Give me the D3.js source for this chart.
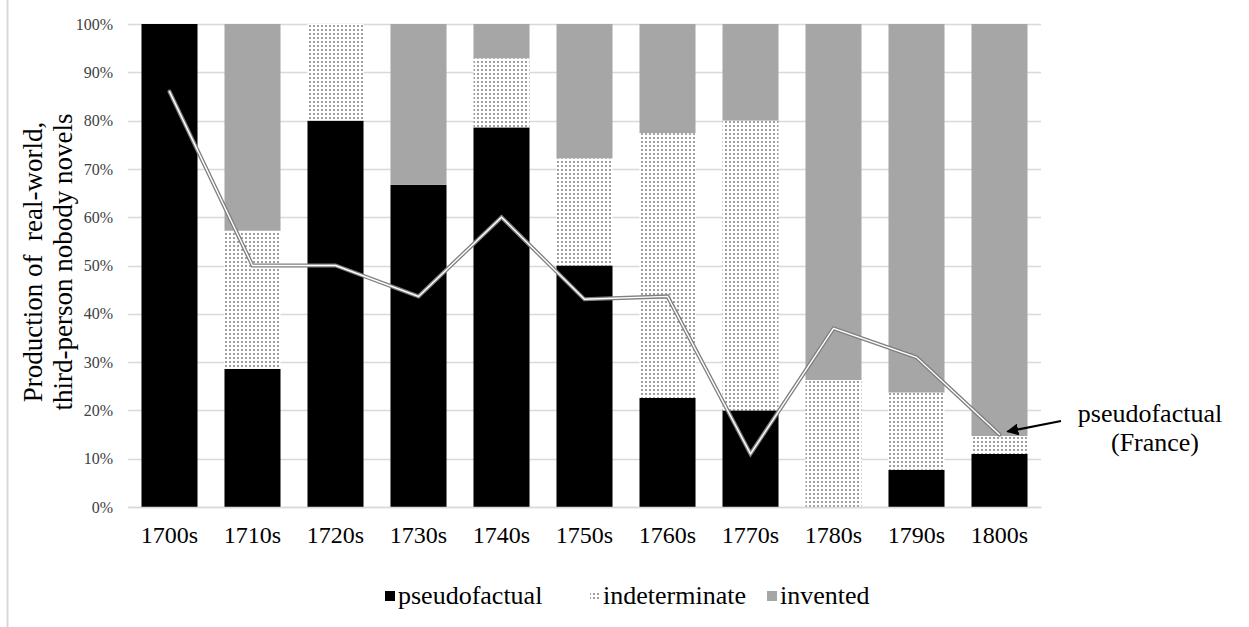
<!DOCTYPE html>
<html>
<head>
<meta charset="utf-8">
<script src="https://cdn.jsdelivr.net/npm/d3@7"></script>
<style>
  html, body { margin: 0; padding: 0; background: #fff; }
</style>
</head>
<body>
<svg id="chart" width="1249" height="627" font-family="Liberation Serif, serif"></svg>
<script>
// ---- data ----
const categories = ["1700s","1710s","1720s","1730s","1740s","1750s","1760s","1770s","1780s","1790s","1800s"];
const pseudofactual = [100, 28.6, 80, 66.7, 78.6, 50, 22.6, 20, 0, 7.7, 11];
const indeterminate = [0, 28.6, 20, 0, 14.3, 22.2, 54.8, 60, 26.3, 16.0, 3.7];
const invented = [0, 42.8, 0, 33.3, 7.1, 27.8, 22.6, 20, 73.7, 76.3, 85.3];
const franceLine = [86, 50, 50, 43.6, 60, 43, 43.6, 11, 37, 31, 15];
const yTicks = [0, 10, 20, 30, 40, 50, 60, 70, 80, 90, 100];
const seriesNames = ["pseudofactual", "indeterminate", "invented"];
const yTitleLines = ["Production of  real-world,", "third-person nobody novels"];
const annotationLines = ["pseudofactual", "(France)"];

const FONT = "Liberation Serif";

// ---- layout ----
const svg = d3.select("#chart");
const plot = { left: 128, right: 1041, top: 24, bottom: 507 };

const x = d3.scaleBand().domain(categories).range([plot.left, plot.right]).paddingInner(0.325).paddingOuter(0.1625);
const y = d3.scaleLinear().domain([0, 100]).range([plot.bottom, plot.top]);

// pattern
const defs = svg.append("defs");
const pat = defs.append("pattern").attr("id", "dots").attr("patternUnits", "userSpaceOnUse")
  .attr("width", 4).attr("height", 4);
pat.append("rect").attr("width", 4).attr("height", 4).attr("fill", "#fff");
pat.append("rect").attr("x", 1).attr("y", 1).attr("width", 2).attr("height", 2).attr("fill", "#a0a0a0");

const colors = { pseudofactual: "#000000", indeterminate: "url(#dots)", invented: "#a6a6a6" };

// left frame line
svg.append("line").attr("x1", 7.5).attr("x2", 7.5).attr("y1", 0).attr("y2", 627)
  .attr("stroke", "#d9d9d9").attr("stroke-width", 2);

// gridlines
svg.append("g").selectAll("line").data(yTicks).join("line")
  .attr("x1", plot.left).attr("x2", plot.right)
  .attr("y1", d => Math.round(y(d)) + 0.5).attr("y2", d => Math.round(y(d)) + 0.5)
  .attr("stroke", "#d9d9d9").attr("stroke-width", 1.5);

// y axis labels
const yAxis = d3.axisLeft(y).tickValues(yTicks).tickFormat(d => d + "%").tickSize(0).tickPadding(15);
const yG = svg.append("g").attr("transform", `translate(${plot.left},0)`).call(yAxis)
  .attr("font-family", FONT).attr("font-size", 16);
yG.select(".domain").remove();
yG.selectAll("text").attr("font-family", FONT).attr("font-size", 16).attr("fill", "#404040");

// stacked bars
const rows = categories.map((c, i) => ({ cat: c, pseudofactual: pseudofactual[i], indeterminate: indeterminate[i], invented: invented[i] }));
const stack = d3.stack().keys(seriesNames)(rows);
svg.append("g").selectAll("g").data(stack).join("g")
  .attr("fill", d => colors[d.key])
  .selectAll("rect").data(d => d).join("rect")
  .attr("x", d => x(d.data.cat))
  .attr("width", x.bandwidth())
  .attr("y", d => y(d[1]))
  .attr("height", d => Math.max(0, y(d[0]) - y(d[1])));

// line (double-line style)
const line = d3.line().x((d, i) => x(categories[i]) + x.bandwidth() / 2).y(d => y(d));
svg.append("path").datum(franceLine).attr("d", line).attr("fill", "none")
  .attr("stroke", "#7f7f7f").attr("stroke-width", 4).attr("stroke-linejoin", "miter").attr("stroke-linecap", "round");
svg.append("path").datum(franceLine).attr("d", line).attr("fill", "none")
  .attr("stroke", "#ffffff").attr("stroke-width", 1.4).attr("stroke-linejoin", "miter").attr("stroke-linecap", "round");

// x axis labels
const xAxis = d3.axisBottom(x).tickSize(0).tickPadding(19);
const xG = svg.append("g").attr("transform", `translate(0,${plot.bottom})`).call(xAxis)
  .attr("font-family", FONT).attr("font-size", 24);
xG.select(".domain").attr("stroke", "#d9d9d9").attr("stroke-width", 1.5);
xG.selectAll("text").attr("font-family", FONT).attr("font-size", 24).attr("fill", "#000");

// y title
const yt = svg.append("text").attr("transform", `translate(42,262) rotate(-90)`).attr("text-anchor", "middle")
  .attr("font-family", FONT).attr("font-size", 27).attr("fill", "#000");
yt.selectAll("tspan").data(yTitleLines).join("tspan")
  .attr("x", 0).attr("dy", (d, i) => i === 0 ? 0 : 30).attr("xml:space", "preserve").style("white-space", "pre").text(d => d);

// annotation
const lastIdx = categories.length - 1;
const ax = x(categories[lastIdx]) + x.bandwidth() / 2;
const ay = y(franceLine[lastIdx]);
defs.append("marker").attr("id", "arrow").attr("viewBox", "0 0 10 10").attr("refX", 9).attr("refY", 5)
  .attr("markerWidth", 6).attr("markerHeight", 6).attr("orient", "auto-start-reverse")
  .append("path").attr("d", "M0,0 L10,5 L0,10 Z").attr("fill", "#000");
svg.append("line").attr("x1", 1061).attr("y1", 421).attr("x2", ax + 8).attr("y2", ay - 3)
  .attr("stroke", "#000").attr("stroke-width", 2).attr("marker-end", "url(#arrow)");
const an = svg.append("text").attr("text-anchor", "middle").attr("font-family", FONT).attr("font-size", 26);
an.selectAll("tspan").data(annotationLines).join("tspan")
  .attr("x", (d, i) => i === 0 ? 1150 : 1155).attr("y", (d, i) => 422 + i * 29).text(d => d);

// legend
const legendItems = [
  { key: "pseudofactual", sx: 385, tx: 398 },
  { key: "indeterminate", sx: 590, tx: 603 },
  { key: "invented", sx: 767, tx: 780 }
];
const lg = svg.append("g").attr("font-family", FONT).attr("font-size", 26);
lg.selectAll("rect").data(legendItems).join("rect")
  .attr("x", d => d.sx).attr("y", 591).attr("width", 10).attr("height", 10)
  .attr("fill", d => colors[d.key]);
lg.selectAll("text").data(legendItems).join("text")
  .attr("x", d => d.tx).attr("y", 604).attr("font-family", FONT).attr("font-size", 26).text(d => d.key);
</script>
</body>
</html>
